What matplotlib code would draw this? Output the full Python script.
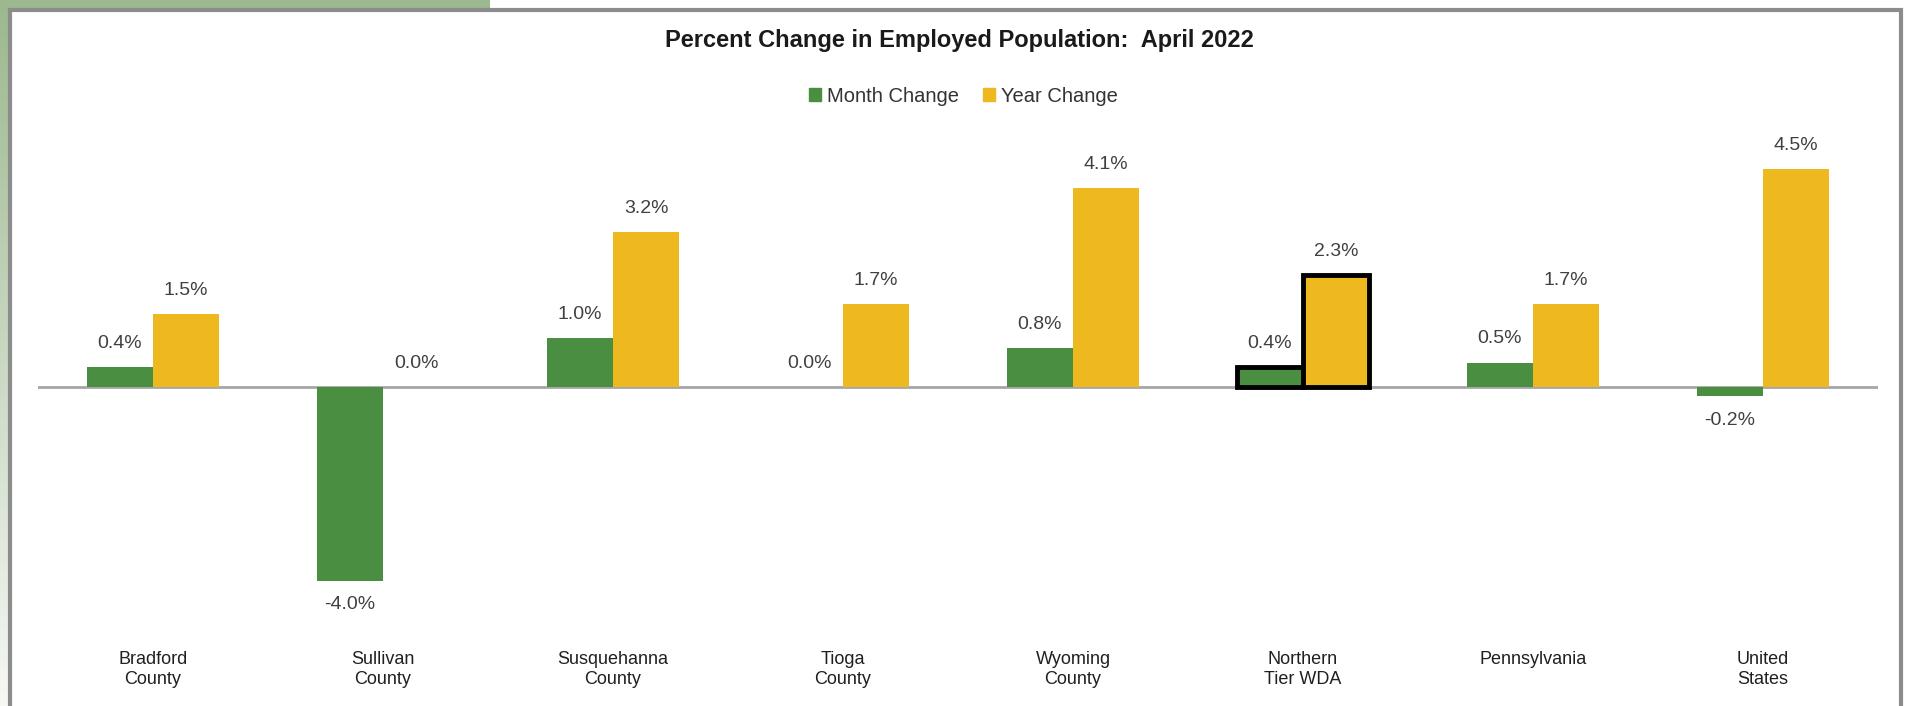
import numpy as np
import matplotlib.pyplot as plt
from matplotlib.patches import Patch, Rectangle
from matplotlib.colors import LinearSegmentedColormap
from matplotlib import font_manager

# Data
areas = ['Bradford\nCounty', 'Sullivan\nCounty', 'Susquehanna\nCounty', 'Tioga\nCounty',
         'Wyoming\nCounty', 'Northern\nTier WDA', 'Pennsylvania', 'United\nStates']
month_change = [0.4, -4.0, 1.0, 0.0, 0.8, 0.4, 0.5, -0.2]
year_change = [1.5, 0.0, 3.2, 1.7, 4.1, 2.3, 1.7, 4.5]
highlight = 'Northern\nTier WDA'

green = '#4A8F41'
gold = '#EDB91E'

names = {f.name for f in font_manager.fontManager.ttflist}
font = 'Liberation Sans Narrow' if 'Liberation Sans Narrow' in names else 'Liberation Sans'
plt.rcParams['font.family'] = [font, 'DejaVu Sans']

W, H = 1908, 706
fig = plt.figure(figsize=(W / 100, H / 100), dpi=100)

# slide background: green gradient strip on the left, flat strip on top
bg = fig.add_axes([0, 0, 9 / W, 1])
cmap = LinearSegmentedColormap.from_list('bg', ['#9BB88E', '#F6F8F4'])
bg.imshow(np.linspace(0, 1, 200).reshape(-1, 1), aspect='auto', cmap=cmap,
          extent=[0, 1, 0, 1], origin='upper')
bg.axis('off')
fig.patches.append(Rectangle((0, 1 - 9 / H), 490 / W, 9 / H, transform=fig.transFigure,
                             facecolor='#9BB88E', edgecolor='none', zorder=0))
# chart frame
fig.patches.append(Rectangle((10.5 / W, -0.05), (1901 - 10.5) / W, 1 - 10.5 / H + 0.05,
                             transform=fig.transFigure, facecolor='none',
                             edgecolor='#8C8C8C', linewidth=3, zorder=5))

ax = fig.add_axes([38 / W, 106 / H, 1840 / W, 470 / H])
x = np.arange(len(areas))
bw = 0.287

b1 = ax.bar(x - bw / 2, month_change, bw, color=green, zorder=3)
b2 = ax.bar(x + bw / 2, year_change, bw, color=gold, zorder=3)

hi = areas.index(highlight)
for b in (b1[hi], b2[hi]):
    b.set_edgecolor('black')
    b.set_linewidth(3.5)
    b.set_zorder(4)

ax.axhline(0, color='#A6A6A6', linewidth=2, zorder=2)

for bars, vals in ((b1, month_change), (b2, year_change)):
    for b, v in zip(bars, vals):
        off = -17 if v < 0 else 17
        ax.annotate(f'{v:.1f}%', (b.get_x() + b.get_width() / 2, v),
                    xytext=(0, off), textcoords='offset points',
                    ha='center', va='center', fontsize=14, color='#404040')

ax.set_xlim(-0.5, 7.5)
ax.set_ylim(-4.4, 5.3)
ax.set_xticks(x)
ax.set_xticklabels(areas, fontsize=13, color='#202020', linespacing=1.2)
ax.tick_params(axis='x', length=0, pad=37)
ax.set_yticks([])
for s in ax.spines.values():
    s.set_visible(False)

fig.text(0.503, 1 - 41 / H, 'Percent Change in Employed Population:  April 2022',
         ha='center', va='center', fontsize=17, fontweight='bold', color='#1A1A1A')

handles = [Patch(color=green, label='Month Change'), Patch(color=gold, label='Year Change')]
fig.legend(handles=handles, loc='center', bbox_to_anchor=(0.505, 1 - 96 / H), ncol=2,
           frameon=False, fontsize=14.5, handlelength=0.6, handleheight=0.6,
           handletextpad=0.3, columnspacing=1.2, labelcolor='#333333')

fig.savefig('out.png', dpi=100)
